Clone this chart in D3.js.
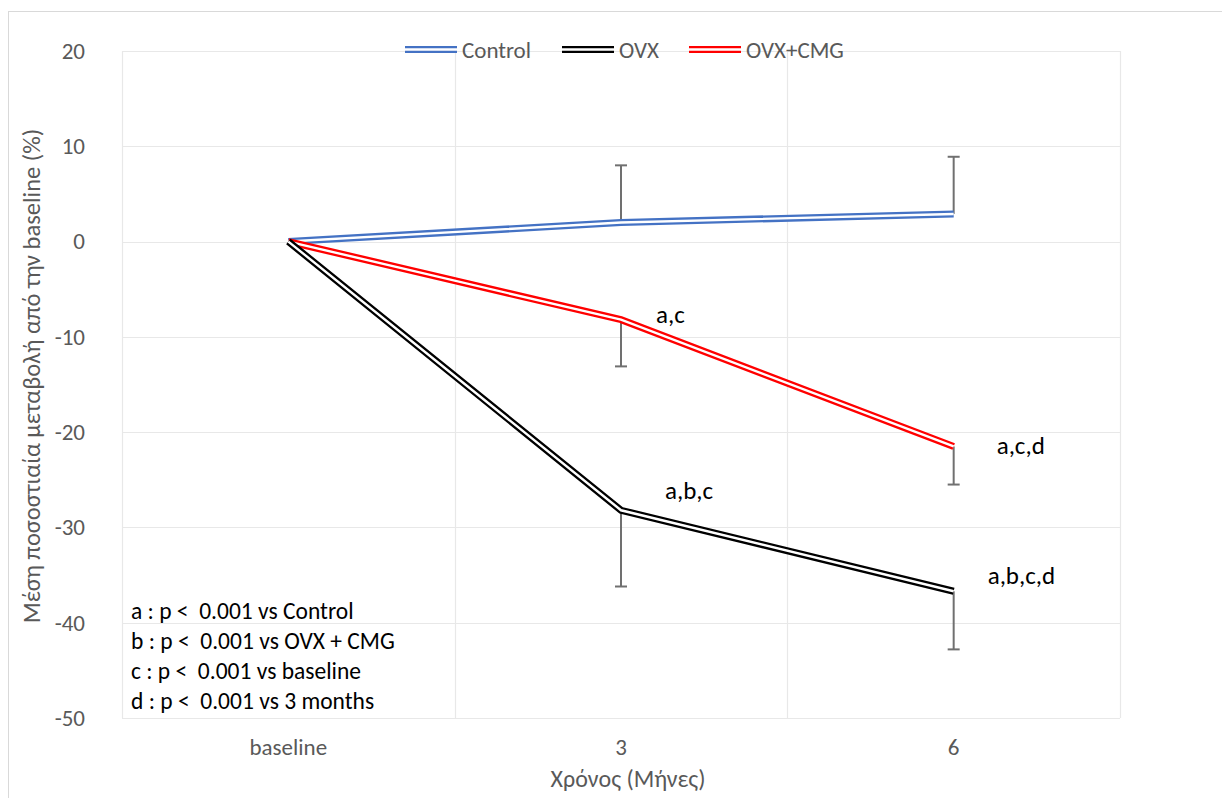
<!DOCTYPE html>
<html><head><meta charset="utf-8">
<script src="https://cdn.jsdelivr.net/npm/d3@7"></script>
<style>
body{margin:0;background:#fff;}
text{font-family:Carlito,Calibri,Lato,"Open Sans",sans-serif;}
</style></head>
<body><svg id="c" width="1222" height="798"></svg>
<script>
const categories = ["baseline", "3", "6"];
const controlValues = [0, 2.0, 2.9];
const ovxValues = [0, -28.2, -36.7];
const ovxCmgValues = [0, -8.2, -21.5];
const controlErr = [null, 6.0, 6.0];      // upward
const ovxErr = [null, 8.0, 6.1];          // downward
const ovxCmgErr = [null, 4.9, 4.0];       // downward
const yTicks = [20, 10, 0, -10, -20, -30, -40, -50];
const seriesNames = ["Control", "OVX", "OVX+CMG"];
const seriesColors = ["#4472c4", "#000000", "#ff0000"];
const annotations = [
  {series: 2, idx: 1, text: "a,c"},
  {series: 1, idx: 1, text: "a,b,c"},
  {series: 2, idx: 2, text: "a,c,d"},
  {series: 1, idx: 2, text: "a,b,c,d"}
];
const notes = ["a : p <  0.001 vs Control", "b : p <  0.001 vs OVX + CMG", "c : p <  0.001 vs baseline", "d : p <  0.001 vs 3 months"];
const yTitle = "Μέση ποσοστιαία μεταβολή από την baseline (%)";
const xTitle = "Χρόνος (Μήνες)";

// layout (pixel offsets for annotation labels relative to their point)
const annOffsets = [[35, 3], [44, -11], [43, 8], [34, -7]];

const svg = d3.select("#c");
const L = 122, R = 1120, T = 51, B = 718;
const FS = 23;
svg.append("rect").attr("x", 8.5).attr("y", 11.5).attr("width", 1230).attr("height", 800)
  .attr("fill", "none").attr("stroke", "#d9d9d9");

const x = d3.scaleBand().domain(categories).range([L, R]).padding(0);
const y = d3.scaleLinear().domain([-50, 20]).range([B, T]);
const cx = d => x(d) + x.bandwidth() / 2;

// gridlines
svg.append("g").selectAll("line").data(yTicks).join("line")
  .attr("x1", L).attr("x2", R).attr("y1", d => Math.round(y(d)) + 0.5).attr("y2", d => Math.round(y(d)) + 0.5)
  .attr("stroke", "#e8e8e8").attr("stroke-width", 1.2);
const vx = [L, ...categories.slice(1).map(c => x(c)), R];
svg.append("g").selectAll("line").data(vx).join("line")
  .attr("x1", d => Math.round(d) + 0.5).attr("x2", d => Math.round(d) + 0.5).attr("y1", T).attr("y2", B)
  .attr("stroke", "#e8e8e8").attr("stroke-width", 1.2);

// y axis labels
const yAxis = d3.axisLeft(y).tickValues(yTicks).tickSize(0).tickPadding(0).tickFormat(d => String(d));
const gy = svg.append("g").attr("transform", `translate(${L - 37},0)`).call(yAxis);
gy.select(".domain").remove();
gy.selectAll("text").attr("font-size", FS).attr("fill", "#595959").attr("font-family", "Carlito,Calibri,Lato,sans-serif");

// x axis labels
const xAxis = d3.axisBottom(x).tickSize(0).tickPadding(0);
const gx = svg.append("g").attr("transform", `translate(0,${B + 20})`).call(xAxis);
gx.select(".domain").remove();
gx.selectAll("text").attr("dy", null).attr("y", 17).attr("font-size", FS).attr("fill", "#595959").attr("font-family", "Carlito,Calibri,Lato,sans-serif");

// titles
svg.append("text").attr("transform", `translate(40,376) rotate(-90)`)
  .attr("text-anchor", "middle").attr("font-size", 24.5).attr("fill", "#595959").text(yTitle);
svg.append("text").attr("x", 628).attr("y", 787)
  .attr("text-anchor", "middle").attr("font-size", 24).attr("fill", "#595959").text(xTitle);

const allValues = [controlValues, ovxValues, ovxCmgValues];
const allErr = [controlErr, ovxErr, ovxCmgErr];
const errDir = [1, -1, -1];

// error bars
allErr.forEach((errs, s) => {
  errs.forEach((e, i) => {
    if (e == null) return;
    const v = allValues[s][i];
    const end = v + errDir[s] * e;
    const g = svg.append("g").attr("stroke", "#707070").attr("stroke-width", 2);
    g.append("line").attr("x1", cx(categories[i])).attr("x2", cx(categories[i])).attr("y1", y(v)).attr("y2", y(end));
    g.append("line").attr("x1", cx(categories[i]) - 6).attr("x2", cx(categories[i]) + 6).attr("y1", y(end)).attr("y2", y(end));
  });
});

// double lines
const line = d3.line().x((d, i) => cx(categories[i])).y(d => y(d));
[0, 2, 1].forEach(s => {
  svg.append("path").attr("d", line(allValues[s])).attr("fill", "none")
    .attr("stroke", seriesColors[s]).attr("stroke-width", 7).attr("stroke-linejoin", "miter");
  svg.append("path").attr("d", line(allValues[s])).attr("fill", "none")
    .attr("stroke", "#fff").attr("stroke-width", 2.4).attr("stroke-linejoin", "miter");
});

// annotations
annotations.forEach((a, k) => {
  const v = allValues[a.series][a.idx];
  svg.append("text").attr("x", cx(categories[a.idx]) + annOffsets[k][0]).attr("y", y(v) + annOffsets[k][1])
    .attr("font-size", 25).attr("fill", "#000").text(a.text);
});

// legend
const legX = [405, 562, 689];
seriesNames.forEach((n, i) => {
  const g = svg.append("g");
  g.append("line").attr("x1", legX[i]).attr("x2", legX[i] + 52).attr("y1", 49.5).attr("y2", 49.5)
    .attr("stroke", seriesColors[i]).attr("stroke-width", 7);
  g.append("line").attr("x1", legX[i]).attr("x2", legX[i] + 52).attr("y1", 49.5).attr("y2", 49.5)
    .attr("stroke", "#fff").attr("stroke-width", 2.4);
  g.append("text").attr("x", legX[i] + 57).attr("y", 57.5).attr("font-size", FS).attr("fill", "#595959").text(n);
});

// notes
notes.forEach((n, i) => {
  svg.append("text").attr("x", 131).attr("y", 619 + i * 30).attr("font-size", 23.5).attr("fill", "#000")
    .attr("xml:space", "preserve").style("white-space", "pre").text(n);
});
</script></body></html>
